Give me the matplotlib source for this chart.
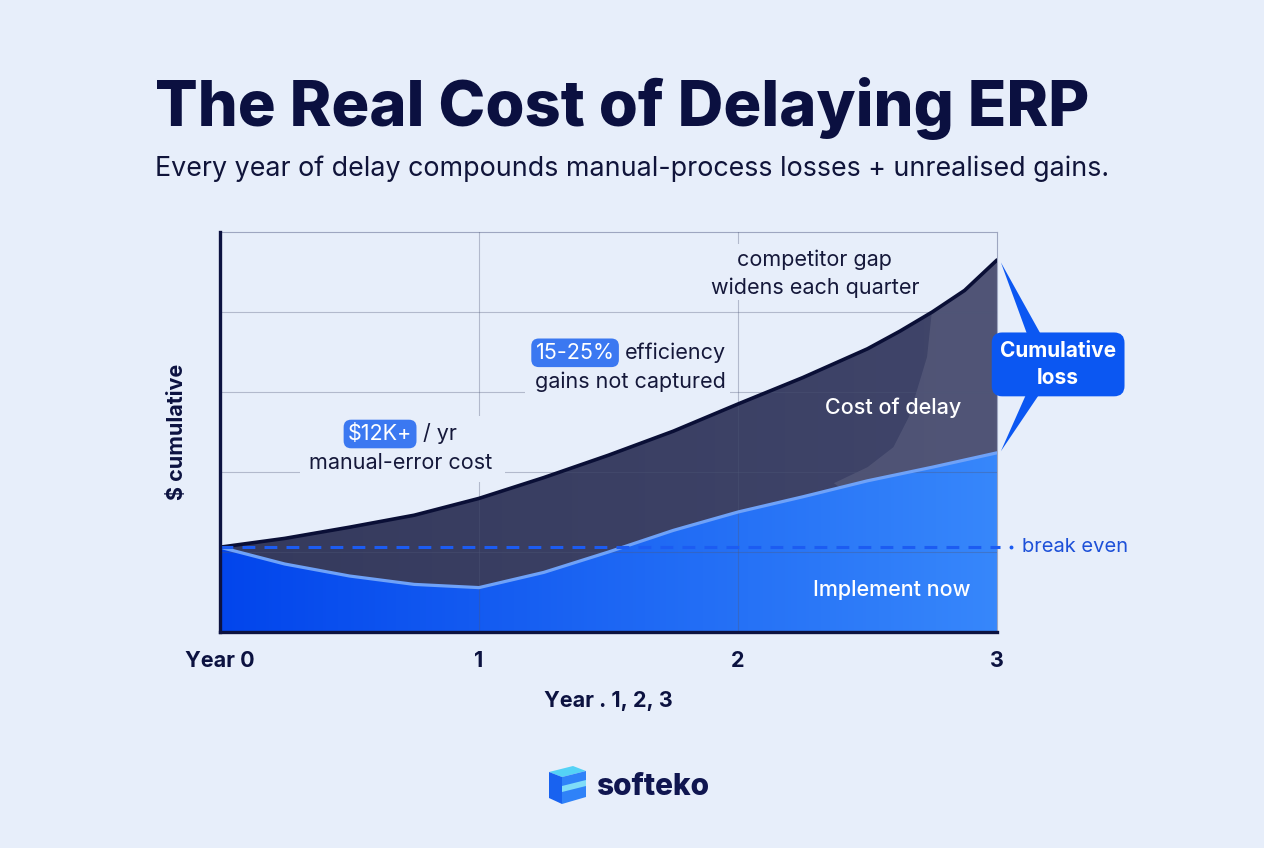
import numpy as np
import matplotlib
matplotlib.use('Agg')
import matplotlib.pyplot as plt
from matplotlib.patches import Polygon, Rectangle
from matplotlib.colors import LinearSegmentedColormap

plt.rcParams['font.family'] = ['Inter', 'DejaVu Sans']

# ---- data ----
years = [0, 0.25, 0.5, 0.75, 1.0, 1.25, 1.5, 1.75, 2.0, 2.25, 2.5, 2.625, 2.75, 2.875, 3.0]
delay_cost = [1.06, 1.17, 1.31, 1.46, 1.67, 1.93, 2.21, 2.51, 2.85, 3.18, 3.54, 3.76, 4.00,
              4.27, 4.65]
implement_now = [1.06, 0.85, 0.70, 0.595, 0.555, 0.745, 1.00, 1.27, 1.50, 1.69, 1.89, 1.975,
                 2.06, 2.15, 2.24]
break_even = 1.065
tick_pos = [0, 1, 2, 3]
tick_labels = ['Year 0', '1', '2', '3']
# edge of the lighter patch inside the cost-of-delay area
shade_x = [2.37, 2.50, 2.60, 2.66, 2.73, 2.75]
shade_y = [1.86, 2.06, 2.31, 2.69, 3.44, 4.05]

BG = '#e7eefa'
NAVY = '#0c1240'
BLUE = '#0b57f2'
INK = '#15183a'

fig = plt.figure(figsize=(12.64, 8.48), dpi=100, facecolor=BG)
ax = fig.add_axes([220/1264, 1 - 632/848, 777/1264, 400/848])
ax.set_facecolor(BG)


def px(x, y):
    # pixel position -> figure fraction
    return x / 1264, 1 - y / 848


def gradient_fill(x, y1, y2, c_left, c_right, z):
    poly = ax.fill_between(x, y1, y2, color='none', lw=0)
    cmap = LinearSegmentedColormap.from_list('g', [c_left, c_right])
    img = ax.imshow(np.linspace(0, 1, 256).reshape(1, -1), cmap=cmap, aspect='auto',
                    extent=[min(x), max(x), 0, 5], origin='lower', zorder=z)
    img.set_clip_path(poly.get_paths()[0], transform=ax.transData)
    return poly


base = [0] * len(years)
gradient_fill(years, base, implement_now, '#0245ec', '#3787fb', 1)
dark = gradient_fill(years, implement_now, delay_cost, '#353a5d', '#40456a', 1)

# lighter patch on the right of the dark area
sx = shade_x + [2.8, 3.2, 3.2]
sy = shade_y + [5.0, 5.0, 0.0]
shade = Polygon(list(zip(sx, sy)), closed=True, fc='white', alpha=0.09, lw=0, zorder=2)
ax.add_patch(shade)
shade.set_clip_path(dark.get_paths()[0], transform=ax.transData)

# grid
for gy in [1, 2, 3, 4]:
    ax.axhline(gy, color='#4f5878', lw=0.8, alpha=0.35, zorder=3)
for gx in [1, 2]:
    ax.axvline(gx, color='#4f5878', lw=0.8, alpha=0.35, zorder=3)

# lines
ax.plot(years, delay_cost, color='#0a0f36', lw=2.6, zorder=6, solid_capstyle='round',
        solid_joinstyle='round')
ax.plot(years, implement_now, color='#6fa2f8', lw=2.3, zorder=6, solid_capstyle='round',
        solid_joinstyle='round')

# break even
ax.plot([0, 3.01], [break_even, break_even], color='#1c5cf2', lw=2.2,
        dashes=(4.2, 3.0), zorder=7, clip_on=False)
ax.plot([3.054], [break_even], marker='o', ms=1.8, color='#1c5cf2', clip_on=False)
ax.text(3.097, break_even, 'break even', color='#1d50d8', fontsize=14.5,
        va='center', ha='left')

ax.set_xlim(0, 3)
ax.set_ylim(0, 5)
ax.set_xticks(tick_pos)
ax.set_xticklabels(tick_labels, fontsize=15.5, fontweight='bold', color=NAVY)
ax.set_yticks([])
ax.tick_params(axis='x', length=0, pad=14)
ax.set_xlabel('Year . 1, 2, 3', fontsize=15.5, fontweight='bold', color=NAVY, labelpad=14)
ax.set_ylabel('$ cumulative', fontsize=15.5, fontweight='bold', color=NAVY, labelpad=24)
for s in ['left', 'bottom']:
    ax.spines[s].set_color(NAVY)
    ax.spines[s].set_linewidth(2.4)
    ax.spines[s].set_zorder(8)
for s in ['top', 'right']:
    ax.spines[s].set_color('#9ea6c0')
    ax.spines[s].set_linewidth(0.8)

# label blocks: background patches break the gridlines behind them
for (x0, y0, w, h) in [(0.309, 1.875, 0.79, 0.83), (1.178, 2.94, 0.79, 0.77),
                       (1.873, 4.15, 0.85, 0.70)]:
    ax.add_patch(Rectangle((x0, y0), w, h, fc=BG, ec='none', zorder=4))

badge = dict(boxstyle='round,pad=0.2,rounding_size=0.35', fc='#3b78f1', ec='none')
ax.text(0.618, 2.475, '$12K+', color='white', fontsize=15.5, ha='center', va='center',
        bbox=badge, zorder=5)
ax.text(0.785, 2.475, '/ yr', color=INK, fontsize=15.5, ha='left', va='center', zorder=5)
ax.text(0.699, 2.11, 'manual-error cost', color=INK, fontsize=15.5,
        ha='center', va='center', zorder=5)

ax.text(1.371, 3.49, '15-25%', color='white', fontsize=15.5, ha='center', va='center',
        bbox=badge, zorder=5)
ax.text(1.565, 3.49, 'efficiency', color=INK, fontsize=15.5, ha='left', va='center', zorder=5)
ax.text(1.583, 3.125, 'gains not captured', color=INK, fontsize=15.5,
        ha='center', va='center', zorder=5)

ax.text(2.297, 4.65, 'competitor gap', color=INK, fontsize=15.5,
        ha='center', va='center', zorder=5)
ax.text(2.297, 4.30, 'widens each quarter', color=INK, fontsize=15.5,
        ha='center', va='center', zorder=5)

ax.text(2.598, 2.80, 'Cost of delay', color='white', fontsize=15.5, fontweight='medium',
        ha='center', va='center', zorder=7)
ax.text(2.595, 0.525, 'Implement now', color='white', fontsize=15.5, fontweight='medium',
        ha='center', va='center', zorder=7)

# callout pointing at both curve ends
tip_top = (years[-1] + 0.015, delay_cost[-1] - 0.03)
tip_bot = (years[-1] + 0.015, implement_now[-1] + 0.02)
ax.add_patch(Polygon([tip_top, (3.13, 3.6), (3.19, 3.6)], closed=True, fc=BLUE,
                     lw=0, clip_on=False, zorder=9))
ax.add_patch(Polygon([tip_bot, (3.13, 3.1), (3.19, 3.1)], closed=True, fc=BLUE,
                     lw=0, clip_on=False, zorder=9))
ax.text(3.236, 3.345, 'Cumulative\nloss', color='white', fontsize=15, fontweight='bold',
        ha='center', va='center', linespacing=1.45, zorder=10,
        bbox=dict(boxstyle='round,pad=0.4,rounding_size=0.5', fc=BLUE, ec='none'))

# title + subtitle
fig.text(*px(622, 109), 'The Real Cost of Delaying ERP', fontsize=45.5, fontweight='heavy',
         color='#0b1040', ha='center', va='center')
fig.text(*px(632, 169), 'Every year of delay compounds manual-process losses + unrealised gains.',
         fontsize=19.3, color='#10143a', ha='center', va='center')

# logo
for pts, c in [([(549, 772), (573, 766), (586, 771), (562, 777)], '#54d2f6'),
               ([(549, 772), (562, 777), (562, 804), (549, 798)], '#1862f0'),
               ([(562, 777), (586, 771), (586, 797), (562, 804)], '#2f82f8'),
               ([(562, 786), (586, 780), (586, 786), (562, 792)], '#7fdcf8')]:
    fig.add_artist(Polygon([px(*p) for p in pts], closed=True, fc=c, lw=0,
                           transform=fig.transFigure))
fig.text(*px(596, 787), 'softeko', fontsize=21.5, fontweight='heavy', color='#101650',
         ha='left', va='center')

fig.savefig('out.png', dpi=100, facecolor=BG)
